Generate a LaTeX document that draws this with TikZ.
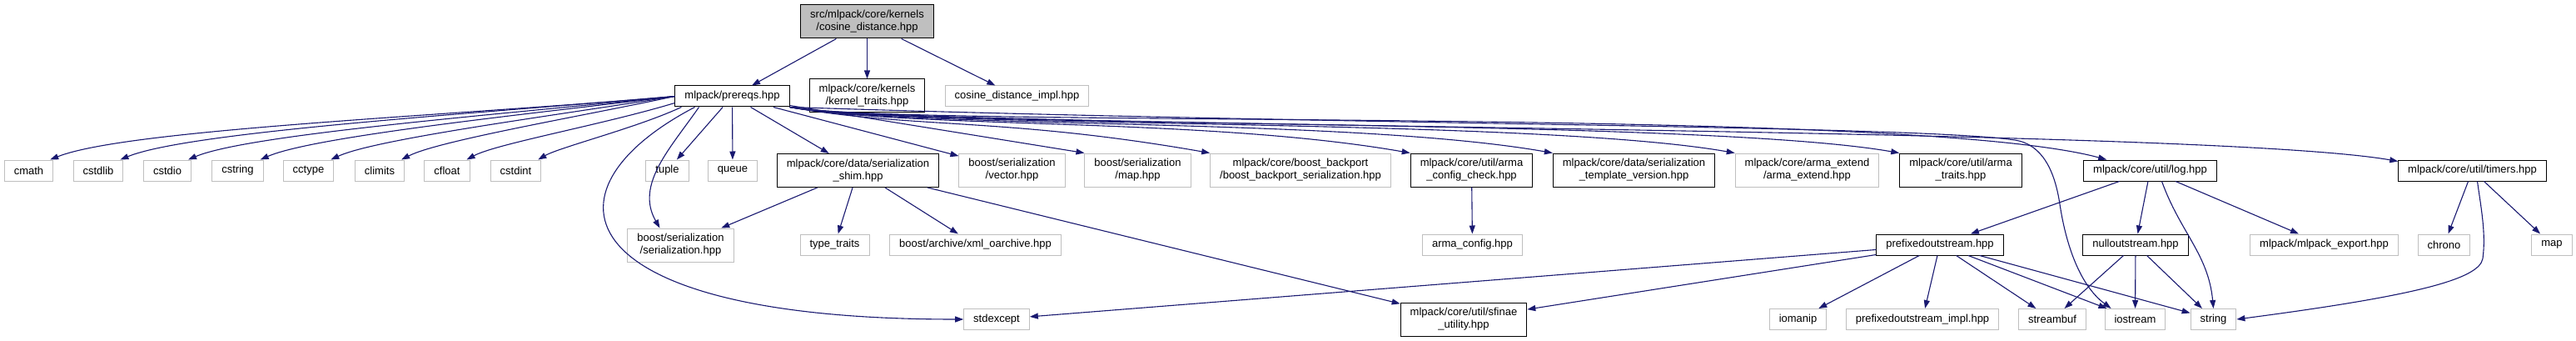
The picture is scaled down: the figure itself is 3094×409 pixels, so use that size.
\documentclass[tikz,border=0pt]{standalone}
\usepackage{fontspec}
\setmainfont{Liberation Sans}
\usepackage{xcolor}
\usetikzlibrary{arrows.meta}
\definecolor{edgeblue}{HTML}{191970}
\definecolor{boxgray}{HTML}{BFBFBF}
\tikzset{
  file/.style={rectangle, draw=boxgray, line width=1pt, inner xsep=11.5pt, inner ysep=3pt,
    minimum height=25pt, align=center, font=\fontsize{13}{15}\selectfont},
  docfile/.style={file, draw=black},
  twoline/.style={minimum height=40pt},
  edge/.style={edgeblue, line width=1.1pt, -{Triangle[length=10pt,width=7pt]}},
}

\begin{document}
\begin{tikzpicture}[x=1pt, y=1pt]
        \useasboundingbox (0,0) rectangle (3094,-409);
        % top
        \node[docfile, twoline, fill=boxgray] (root) at (1041.5,-26) {src/mlpack/core/kernels\\/cosine\_distance.hpp};
        \node[docfile] (prereqs) at (879.5,-115.5) {mlpack/prereqs.hpp};
        \node[docfile, twoline] (kerneltraits) at (1041.5,-115) {mlpack/core/kernels\\/kernel\_traits.hpp};
        \node[file] (distimpl) at (1221.5,-115.5) {cosine\_distance\_impl.hpp};
        % headers of prereqs
        \node[file] (cmath) at (34.5,-204.5) {cmath};
        \node[file] (cstdlib) at (118,-204.5) {cstdlib};
        \node[file] (cstdio) at (201,-204.5) {cstdio};
        \node[file] (cstring) at (285.5,-204.5) {cstring};
        \node[file] (cctype) at (370.5,-204.5) {cctype};
        \node[file] (climits) at (456,-204.5) {climits};
        \node[file] (cfloat) at (537,-204.5) {cfloat};
        \node[file] (cstdint) at (619.5,-204.5) {cstdint};
        \node[file] (tuple) at (801.5,-204.5) {tuple};
        \node[file] (queue) at (880,-204.5) {queue};
        \node[docfile, twoline] (shim) at (1030.5,-204.5) {mlpack/core/data/serialization\\\_shim.hpp};
        \node[file, twoline] (vector) at (1215.5,-204) {boost/serialization\\/vector.hpp};
        \node[file, twoline] (bmap) at (1366.5,-204) {boost/serialization\\/map.hpp};
        \node[file, twoline] (backport) at (1562,-204) {mlpack/core/boost\_backport\\/boost\_backport\_serialization.hpp};
        \node[docfile, twoline] (configcheck) at (1767.5,-204) {mlpack/core/util/arma\\\_config\_check.hpp};
        \node[docfile, twoline] (tplversion) at (1962.5,-204) {mlpack/core/data/serialization\\\_template\_version.hpp};
        \node[file, twoline] (armaextend) at (2170.5,-204) {mlpack/core/arma\_extend\\/arma\_extend.hpp};
        \node[docfile, twoline] (armatraits) at (2355,-204) {mlpack/core/util/arma\\\_traits.hpp};
        \node[docfile] (log) at (2582.5,-204.5) {mlpack/core/util/log.hpp};
        \node[docfile] (timers) at (2969.5,-204.5) {mlpack/core/util/timers.hpp};
        % third level
        \node[file, twoline] (serial) at (817.5,-294) {boost/serialization\\/serialization.hpp};
        \node[file] (typetraits) at (1002.5,-293.5) {type\_traits};
        \node[file] (xmlarchive) at (1171.5,-293.5) {boost/archive/xml\_oarchive.hpp};
        \node[file] (armaconfig) at (1768.5,-293.5) {arma\_config.hpp};
        \node[docfile] (prefixed) at (2330,-293.5) {prefixedoutstream.hpp};
        \node[docfile] (nullout) at (2565,-293.5) {nulloutstream.hpp};
        \node[file] (mlexport) at (2791.5,-293.5) {mlpack/mlpack\_export.hpp};
        \node[file] (chrono) at (2935.5,-293.5) {chrono};
        \node[file] (smap) at (3065,-293.5) {map};
        % bottom
        \node[file] (stdexcept) at (1197,-383) {stdexcept};
        \node[docfile, twoline] (sfinae) at (1758,-383) {mlpack/core/util/sfinae\\\_utility.hpp};
        \node[file] (iomanip) at (2159.5,-383) {iomanip};
        \node[file] (prefixedimpl) at (2309,-383) {prefixedoutstream\_impl.hpp};
        \node[file] (streambuf) at (2465,-383) {streambuf};
        \node[file] (iostream) at (2564.5,-383) {iostream};
        \node[file] (string) at (2658.5,-383) {string};
        % root edges
        \draw[edge] (root) -- (prereqs);
        \draw[edge] (root) -- (kerneltraits);
        \draw[edge] (root) -- (distimpl);
        % prereqs, left side
        \draw[edge] (prereqs.west) .. controls +(-259,-23) and +(93,37) .. ([xshift=-4pt]cmath.north east);
        \draw[edge] (prereqs.west) .. controls +(-229,-20) and +(83,34) .. ([xshift=-4pt]cstdlib.north east);
        \draw[edge] (prereqs.west) .. controls +(-199,-21) and +(74,31) .. ([xshift=-4pt]cstdio.north east);
        \draw[edge] (prereqs.west) .. controls +(-174,-21) and +(64,28) .. ([xshift=-4pt]cstring.north east);
        \draw[edge] (prereqs.west) .. controls +(-143,-23) and +(54,25) .. ([xshift=-4pt]cctype.north east);
        \draw[edge] (prereqs.west) .. controls +(-112,-24) and +(45,23) .. ([xshift=-4pt]climits.north east);
        \draw[edge] ([yshift=-8pt]prereqs.west) .. controls +(-86,-26) and +(35,19) .. ([xshift=-4pt]cfloat.north east);
        \draw[edge] ([xshift=8pt]prereqs.south west) .. controls +(-54,-25) and +(26,15) .. ([xshift=-4pt]cstdint.north east);
        \draw[edge] (prereqs) -- (tuple);
        \draw[edge] (prereqs) -- (queue);
        \draw[edge] (prereqs) -- (shim);
        \draw[edge] ([xshift=-40pt]prereqs.south) .. controls +(-34,-49) and +(-30,52) .. ([xshift=-25pt]serial.north);
        \draw[edge] ([xshift=-45pt]prereqs.south) .. controls (640,-230) and (680,-383) .. (stdexcept.west);
        % prereqs, right side
        \draw[edge] (prereqs) -- (vector);
        \draw[edge] (prereqs) -- (bmap.north west);
        \draw[edge] (prereqs.south east) .. controls +(148,-26) and +(-246,43) .. (backport.north west);
        \draw[edge] (prereqs.south east) .. controls +(148,-26) and +(-246,43) .. (configcheck.north west);
        \draw[edge] (prereqs.south east) .. controls +(148,-26) and +(-246,43) .. (tplversion.north west);
        \draw[edge] (prereqs.south east) .. controls +(148,-26) and +(-246,43) .. (armaextend.north west);
        \draw[edge] (prereqs.south east) .. controls +(148,-26) and +(-246,43) .. (armatraits.north west);
        \draw[edge] (prereqs.south east) .. controls +(148,-26) and +(-241,65) .. ([xshift=28pt]log.north west);
        \draw[edge] (prereqs.south east) .. controls +(148,-26) and +(-246,43) .. ([yshift=-2pt]timers.north west);
        \draw[edge] (prereqs.south east) .. controls (1600,-150) and (2300,-150) .. (2420,-168)
          .. controls (2453,-173) and (2468,-205) .. (2474,-245)
          .. controls (2480,-285) and (2495,-340) .. ([xshift=8pt]iostream.north west);
        % shim
        \draw[edge] (shim) -- (serial);
        \draw[edge] (shim) -- (typetraits);
        \draw[edge] (shim) -- (xmlarchive);
        \draw[edge] (shim) -- (sfinae);
        \draw[edge] (configcheck) -- (armaconfig);
        % log and timers
        \draw[edge] (log) -- (prefixed);
        \draw[edge] (log) -- (nullout);
        \draw[edge] ([xshift=14pt]log.south) .. controls +(22,-61) and +(-6,65) .. (string.north);
        \draw[edge] (log) -- (mlexport);
        \draw[edge] (timers) -- (chrono);
        \draw[edge] (timers) -- (smap);
        \draw[edge] ([xshift=6pt]timers.south) .. controls (2980,-250) and (2986,-280) .. (2982,-310)
          .. controls (2978,-335) and (2900,-355) .. (string.east);
        % streams
        \draw[edge] (prefixed) -- (stdexcept);
        \draw[edge] (prefixed) -- (sfinae);
        \draw[edge] (prefixed) -- (iomanip);
        \draw[edge] (prefixed) -- (prefixedimpl);
        \draw[edge] (prefixed) -- (streambuf);
        \draw[edge] (prefixed) -- (iostream);
        \draw[edge] (prefixed) -- (string);
        \draw[edge] (nullout) -- (streambuf);
        \draw[edge] (nullout) -- (iostream);
        \draw[edge] (nullout) -- (string);
\end{tikzpicture}
\end{document}
